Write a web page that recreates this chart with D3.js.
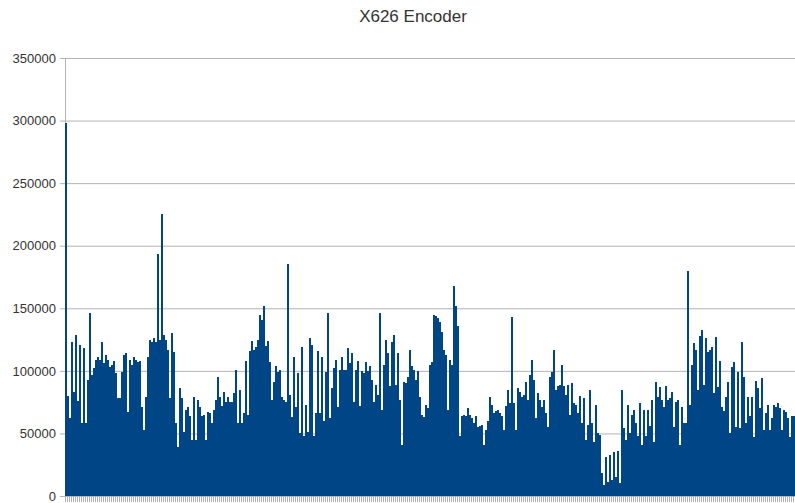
<!DOCTYPE html>
<html>
<head>
<meta charset="utf-8">
<script src="https://cdn.jsdelivr.net/npm/d3@7"></script>
<style>
  body { margin: 0; background: #fff; }
  svg { display: block; font-family: "Liberation Sans", Arial, sans-serif; }
</style>
</head>
<body>
<svg id="chart" width="795" height="503"></svg>
<script>
var title = "X626 Encoder";

// bar heights in thousands, read left to right from the picture
var part1 = [298, 80, 62, 123, 83, 129, 76, 121, 58, 118, 58, 93, 146, 97, 102, 109, 111, 109, 123, 106,
  113, 109, 103, 105, 108, 98, 78, 78, 99, 113, 114, 67, 109, 105, 111, 109, 107, 108, 71, 53,
  79, 111, 125, 123, 126, 123, 193, 125, 225, 129, 125, 117, 78, 130, 115, 58, 39, 86];
var part2 = [78, 51, 69, 71, 64, 45, 79, 45, 77, 71, 64, 65, 45, 67, 66, 58, 69, 77, 95, 79,
  72, 83, 75, 79, 75, 75, 82, 101, 58, 85, 58, 66, 108, 65, 116, 124, 117, 119, 125, 145,
  141, 152, 120, 124, 107, 77, 91, 104, 99, 101, 79, 77, 75, 185, 81, 63, 111, 71, 98, 50,
  119, 48, 73, 51, 126];
var part3 = [121, 48, 66, 116, 66, 111, 60, 99, 146, 62, 86, 102, 109, 71, 101, 111, 101, 101, 118, 106,
  114, 75, 101, 108, 72, 100, 98, 107, 100, 104, 93, 75, 89, 81, 146, 69, 105, 125, 114, 88,
  123, 129, 89, 114, 77, 41, 91, 90, 95, 117, 104, 101, 93, 100, 79, 65, 63, 73, 70, 105, 107];
var part4 = [145, 144, 142, 139, 131, 117, 113, 69, 109, 105, 168, 152, 136, 48, 64, 65, 64, 70, 65, 62,
  58, 64, 55, 56, 57, 41, 53, 60, 79, 73, 66, 68, 69, 66, 64, 53, 72, 85, 74, 143,
  74, 53, 86, 83, 79, 81, 91, 77, 97, 109, 93, 62, 82, 77, 71, 77, 66, 55, 95];
var part5 = [99, 117, 85, 88, 89, 105, 88, 81, 89, 65, 90, 74, 73, 66, 80, 58, 78, 45, 57, 85,
  58, 43, 73, 50, 49, 18, 9, 31, 11, 33, 13, 35, 15, 36, 10, 85, 54, 45, 73, 50,
  65, 69, 58, 48, 74, 41, 69, 48, 69, 56, 77, 43, 91, 79, 87, 77, 71, 88, 77, 78];
var part6 = [83, 55, 75, 77, 41, 71, 58, 58, 180, 73, 105, 122, 117, 85, 128, 133, 89, 126, 115, 117,
  119, 82, 127, 87, 108, 71, 68, 79, 91, 50, 103, 107, 55, 99, 54, 123, 95, 58, 79, 64,
  79, 47, 92, 86, 70, 94, 53, 66, 73, 53, 62, 73, 71, 74, 70, 53, 69, 67, 62, 47, 64, 64];

var yTicks = [0, 50000, 100000, 150000, 200000, 250000, 300000, 350000];

var values = part1.concat(part2, part3, part4, part5, part6).map(function (v) { return v * 1000; });
var categories = values.map(function (v, i) { return i + 1; });

var svg = d3.select("svg#chart");
var plotLeft = 65, plotRight = 795, plotTop = 58, plotBottom = 496;

var x = d3.scaleBand()
  .domain(categories)
  .range([plotLeft, plotRight])
  .padding(0);

var y = d3.scaleLinear()
  .domain([0, 350000])
  .range([plotBottom, plotTop]);

svg.append("text")
  .attr("x", 413)
  .attr("y", 22)
  .attr("text-anchor", "middle")
  .style("font-size", "17px")
  .style("fill", "#333")
  .text(title);

// gridlines + y axis
var yAxis = d3.axisLeft(y)
  .tickValues(yTicks)
  .tickSize(-(plotRight - plotLeft))
  .tickSizeOuter(0)
  .tickPadding(9)
  .tickFormat(d3.format("d"));

var gy = svg.append("g")
  .attr("transform", "translate(" + plotLeft + ",0)")
  .call(yAxis);
gy.select(".domain").remove();
gy.selectAll(".tick line")
  .attr("x1", -5)
  .attr("stroke", "#b3b3b3");
gy.selectAll(".tick text")
  .style("font-size", "13px")
  .style("fill", "#333")
  .style("font-family", "Liberation Sans, Arial, sans-serif");

svg.append("line")
  .attr("x1", plotLeft + 0.5).attr("x2", plotLeft + 0.5)
  .attr("y1", plotTop).attr("y2", plotBottom)
  .attr("stroke", "#b3b3b3");

svg.selectAll("rect.bar")
  .data(values)
  .enter().append("rect")
  .attr("class", "bar")
  .attr("x", function (d, i) { return x(categories[i]); })
  .attr("width", x.bandwidth())
  .attr("y", function (d) { return y(d); })
  .attr("height", function (d) { return y(0) - y(d); })
  .attr("shape-rendering", "crispEdges")
  .style("fill", "#004586");

// x axis with a tick between every category
var xAxis = d3.axisBottom(x)
  .tickSize(6)
  .tickSizeOuter(0)
  .tickFormat("");

var gx = svg.append("g")
  .attr("transform", "translate(0," + plotBottom + ")")
  .call(xAxis);
gx.select(".domain").attr("stroke", "#b3b3b3");
gx.selectAll(".tick line")
  .attr("transform", "translate(" + (-x.bandwidth() / 2) + ",0)")
  .attr("stroke", "#b3b3b3")
  .attr("shape-rendering", "crispEdges");
</script>
</body>
</html>
